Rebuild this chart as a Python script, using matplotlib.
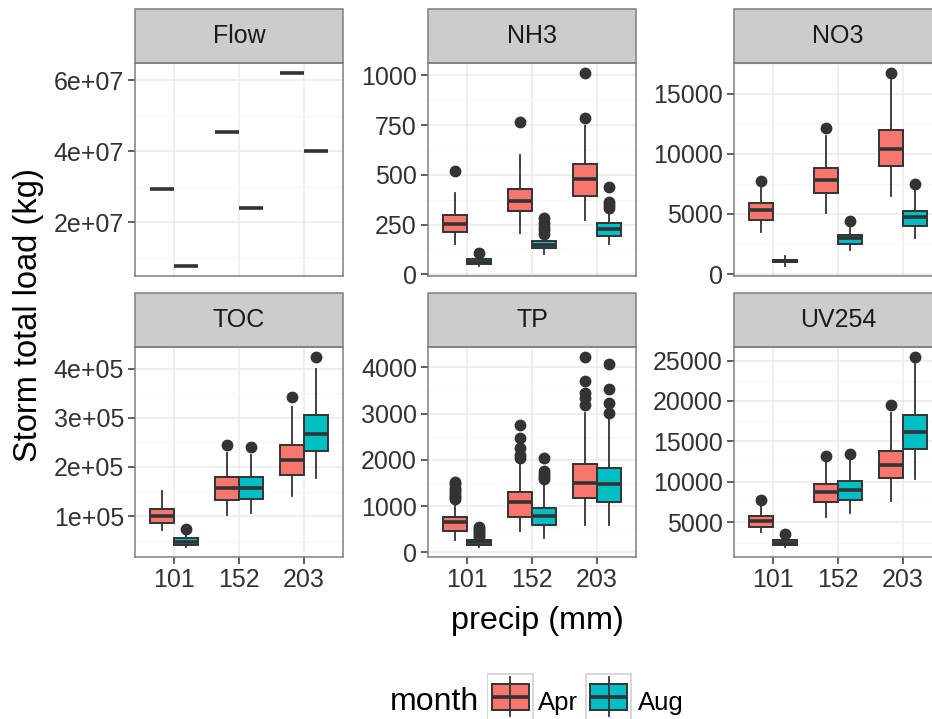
import numpy as np
import matplotlib
matplotlib.use('Agg')
import matplotlib.pyplot as plt
from matplotlib.patches import Rectangle
from matplotlib.ticker import MultipleLocator, FuncFormatter

plt.rcParams['font.family'] = ['Liberation Sans', 'DejaVu Sans']

precip = ['101', '152', '203']
months = ['Apr', 'Aug']
month_colors = ['#F8766D', '#00BFC4']

# box stats: (whislo, q1, med, q3, whishi, fliers)
# order: Apr 101, Aug 101, Apr 152, Aug 152, Apr 203, Aug 203
flow = [
    (2.93e7, 2.93e7, 2.93e7, 2.93e7, 2.93e7, []),
    (0.76e7, 0.76e7, 0.76e7, 0.76e7, 0.76e7, []),
    (4.54e7, 4.54e7, 4.54e7, 4.54e7, 4.54e7, []),
    (2.40e7, 2.40e7, 2.40e7, 2.40e7, 2.40e7, []),
    (6.22e7, 6.22e7, 6.22e7, 6.22e7, 6.22e7, []),
    (4.02e7, 4.02e7, 4.02e7, 4.02e7, 4.02e7, []),
]
nh3 = [
    (150, 214, 253, 298, 411, [520]),
    (40, 50, 60, 75, 92, [105]),
    (210, 318, 369, 428, 598, [766]),
    (101, 130, 147, 167, 195, [205, 222, 240, 259, 281]),
    (273, 396, 480, 554, 744, [786, 1014]),
    (150, 194, 226, 256, 306, [335, 349, 365, 441]),
]
no3 = [
    (3530, 4530, 5340, 5950, 7280, [7760]),
    (650, 1040, 1110, 1180, 1500, []),
    (5060, 6730, 7840, 8810, 11510, [12180]),
    (2000, 2500, 2970, 3250, 3810, [4420]),
    (6510, 8950, 10400, 12010, 16100, [16740]),
    (2970, 4030, 4780, 5250, 6870, [7480]),
]
toc = [
    (0.71e5, 0.865e5, 1.0e5, 1.135e5, 1.51e5, []),
    (0.36e5, 0.41e5, 0.48e5, 0.56e5, 0.63e5, [0.73e5]),
    (1.03e5, 1.325e5, 1.575e5, 1.79e5, 2.29e5, [2.44e5]),
    (1.07e5, 1.35e5, 1.575e5, 1.79e5, 2.25e5, [2.40e5]),
    (1.41e5, 1.83e5, 2.14e5, 2.44e5, 3.23e5, [3.43e5]),
    (1.77e5, 2.32e5, 2.68e5, 3.06e5, 4.0e5, [4.25e5]),
]
tp = [
    (273, 467, 654, 755, 1080, [1150, 1200, 1250, 1300, 1350, 1400, 1480, 1530]),
    (108, 151, 216, 273, 310, [330, 380, 420, 460, 500, 550]),
    (453, 769, 1086, 1316, 2000, [2035, 2100, 2250, 2470, 2750]),
    (309, 597, 791, 970, 1500, [1580, 1640, 1700, 1750, 2050]),
    (597, 1172, 1510, 1920, 3005, [3185, 3330, 3440, 3700, 4230]),
    (597, 1079, 1474, 1833, 2900, [3005, 3220, 3530, 4060]),
]
uv254 = [
    (3810, 4420, 5120, 5820, 7060, [7720]),
    (1910, 2160, 2450, 2860, 3270, [3600]),
    (5620, 7470, 8700, 9770, 12530, [13230]),
    (6150, 7720, 8950, 10060, 12530, [13480]),
    (7670, 10470, 12120, 13770, 18500, [19530]),
    (10390, 14050, 16230, 18290, 24550, [25490]),
]

panel_names = ['Flow', 'NH3', 'NO3', 'TOC', 'TP', 'UV254']
panel_data = [flow, nh3, no3, toc, tp, uv254]
tick_steps = [2e7, 250, 5000, 1e5, 1000, 5000]
sci_fmt = [True, False, False, True, False, False]

W, H = 932, 719
fig = plt.figure(figsize=(W / 100, H / 100), dpi=100)

col_left = [135, 428, 734]
pw = 208
row_top = [63, 347]
row_bot = [276, 557]
strip_h = 54

edge = '#333333'
for k, name in enumerate(panel_names):
    r, c = divmod(k, 3)
    ph = row_bot[r] - row_top[r]
    ax = fig.add_axes([col_left[c] / W, 1 - row_bot[r] / H, pw / W, ph / H])
    stats = panel_data[k]
    for m in range(2):
        st = [dict(whislo=s[0], q1=s[1], med=s[2], q3=s[3], whishi=s[4], fliers=s[5])
              for s in stats[m::2]]
        pos = np.arange(1, 4) + (m - 0.5) * 0.375
        ax.bxp(st, positions=pos, widths=0.375, patch_artist=True, showcaps=False,
               boxprops=dict(facecolor=month_colors[m], edgecolor=edge, lw=1.4),
               medianprops=dict(color=edge, lw=2.6, solid_capstyle='butt'),
               whiskerprops=dict(color=edge, lw=1.3),
               flierprops=dict(marker='o', markerfacecolor=edge, markeredgecolor=edge,
                               markersize=7.5),
               manage_ticks=False)
    ax.set_xlim(0.4, 3.6)
    ax.set_xticks([1, 2, 3])
    ax.set_xticklabels(precip)
    ax.yaxis.set_major_locator(MultipleLocator(tick_steps[k]))
    ax.yaxis.set_minor_locator(MultipleLocator(tick_steps[k] / 2))
    if sci_fmt[k]:
        ax.yaxis.set_major_formatter(FuncFormatter(lambda v, p: '{:.0e}'.format(v)))
    else:
        ax.yaxis.set_major_formatter(FuncFormatter(lambda v, p: '{:.0f}'.format(v)))
    ax.set_axisbelow(True)
    ax.grid(which='major', color='#EBEBEB', lw=1.1)
    ax.grid(which='minor', axis='y', color='#F5F5F5', lw=0.6)
    for sp in ax.spines.values():
        sp.set_color('#7F7F7F')
        sp.set_linewidth(1.1)
    ax.tick_params(which='major', length=5, width=1.1, color=edge, labelsize=18,
                   labelcolor='#333333', pad=3)
    ax.tick_params(which='minor', length=0)
    if r == 0:
        ax.tick_params(axis='x', bottom=False, labelbottom=False)
    sh = strip_h / ph
    ax.add_patch(Rectangle((0, 1), 1, sh, transform=ax.transAxes, clip_on=False,
                           facecolor='#CCCCCC', edgecolor='#7F7F7F', lw=1.1))
    ax.text(0.5, 1 + sh / 2, name, transform=ax.transAxes, ha='center', va='center',
            fontsize=18, color='#1A1A1A')

fig.text(29 / W, 1 - 315 / H, 'Storm total load (kg)', rotation=90, ha='center',
         va='center', fontsize=23.5, color='black')
fig.text(537 / W, 1 - 621 / H, 'precip (mm)', ha='center', va='center',
         fontsize=23.3, color='black')

# legend
fig.text(390 / W, 1 - 710 / H, 'month', ha='left', va='baseline', fontsize=23)
key_left = [487, 585]
label_left = [538, 638]
for i in range(2):
    kax = fig.add_axes([key_left[i] / W, 1 - 720 / H, 47 / W, 47 / H])
    kax.set_xlim(0, 47)
    kax.set_ylim(47, 0)
    kax.axis('off')
    kax.add_patch(Rectangle((0.5, 0.5), 46, 46, facecolor='white', edgecolor='#CCCCCC', lw=1.1))
    kax.plot([23.5, 23.5], [4, 43], color=edge, lw=1.3)
    kax.add_patch(Rectangle((5, 11), 37, 26, facecolor=month_colors[i], edgecolor=edge, lw=1.4))
    kax.plot([5, 42], [24, 24], color=edge, lw=2.6, solid_capstyle='butt')
    fig.text(label_left[i] / W, 1 - 710 / H, months[i], ha='left', va='baseline', fontsize=18.5)

fig.savefig('out.png', dpi=100)
